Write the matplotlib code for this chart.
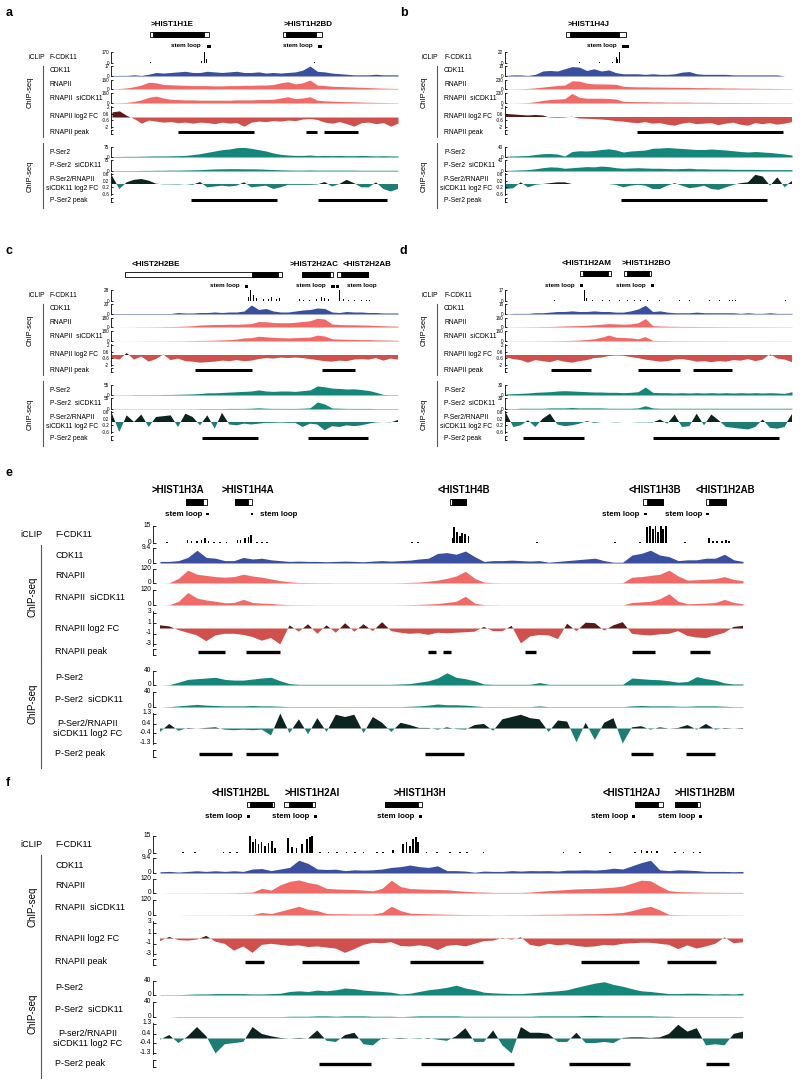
import numpy as np
import matplotlib.pyplot as plt
from matplotlib.patches import Rectangle
from matplotlib.lines import Line2D
from matplotlib.transforms import ScaledTranslation

plt.rcParams['font.family'] = ['Liberation Sans', 'DejaVu Sans']

# ---------------- data (positions are % of the shown locus) ----------------
x_small = np.linspace(0, 100, 40)
x_wide = np.linspace(0, 100, 64)

track_names = ['CDK11', 'RNAPII', 'RNAPII  siCDK11', 'RNAPII log2 FC', 'RNAPII peak',
               'P-Ser2', 'P-Ser2  siCDK11', 'P-Ser2 peak']
small_fc_ticks = [2, 0.6, -0.6, -2]
small_ratio_ticks = [0.6, 0.2, -0.2, -0.6]
wide_fc_ticks = [3, 1, -1, -3]
wide_ratio_ticks = [1.3, 0.4, -0.4, -1.3]

# panel a
a_gene_names = ['>HIST1H1E', '>HIST1H2BD']
a_gene_lab = [13.4, 59.9]
a_gene_start = [13.4, 59.9]
a_gene_end = [34.0, 73.6]
a_cds_start = [14.5, 61.0]
a_cds_end = [32.2, 71.3]
a_stem_start = [33.1, 72.1]
a_stem_end = [34.5, 73.5]
a_stem_side = ['L', 'L']
a_ymax = [170, 17, 160, 160, 75, 75]
a_iclip_pos = [13.4, 15.7, 18.0, 20.3, 22.7, 25.0, 27.3, 29.7, 31.4, 32.2, 32.9, 61.0, 63.4, 65.7, 68.6, 70.9]
a_iclip_h = [8, 5, 6, 4, 5, 4, 5, 6, 30, 170, 60, 4, 4, 4, 5, 8]
a_cdk11 = [1, 1, 1, 2, 1, 3, 6, 5, 6, 7, 8, 6, 6, 8, 7, 6, 7, 8, 6, 6,
           7, 5, 6, 5, 6, 7, 10, 17, 8, 7, 5, 4, 3, 2, 2, 2, 3, 2, 2, 2]
a_rnap = [5, 8, 20, 40, 70, 120, 110, 80, 75, 70, 65, 60, 60, 60, 55, 55, 60, 60, 65, 65,
          70, 70, 80, 110, 130, 90, 110, 160, 70, 60, 50, 45, 40, 35, 30, 25, 20, 15, 12, 10]
a_rnap_si = [3, 5, 10, 25, 50, 90, 110, 80, 60, 55, 50, 50, 45, 45, 45, 45, 45, 50, 50, 50,
             55, 55, 60, 80, 100, 70, 80, 100, 45, 35, 30, 25, 22, 20, 15, 12, 10, 8, 6, 5]
a_rnap_fc = [1.0, 1.2, 0.3, -0.3, -1.2, -0.6, -0.8, -1.0, -0.9, -1.1, -1.0, -1.2, -1.0, -1.1, -1.3, -1.0, -1.2, -1.1, -1.8, -1.0,
             -0.8, -0.9, -0.7, -0.8, -0.6, -0.7, -0.4, -0.3, -0.5, -1.0, -1.2, -0.9, -1.3, -1.8, -1.1, -1.0, -1.3, -1.1, -1.8, -1.2]
a_pser2 = [3, 4, 5, 5, 6, 7, 8, 8, 9, 10, 12, 18, 25, 35, 45, 55, 60, 70, 72, 65,
           55, 45, 30, 20, 15, 12, 12, 15, 10, 12, 10, 12, 10, 10, 12, 10, 8, 10, 8, 8]
a_pser2_si = [2, 3, 3, 3, 4, 4, 5, 5, 6, 6, 7, 8, 9, 12, 14, 15, 16, 16, 15, 15,
              14, 12, 10, 8, 7, 6, 6, 7, 6, 6, 6, 6, 6, 6, 5, 5, 5, 5, 5, 5]
a_pser2_fc = [0.5, -0.3, 0.1, 0.25, 0.3, 0.2, 0.02, -0.02, -0.02, -0.03, 0.0, -0.05, 0.12, -0.2, -0.15, -0.1, -0.15, -0.1, 0.1, -0.2,
              -0.15, -0.1, -0.3, -0.2, -0.05, -0.05, -0.05, -0.05, -0.03, 0.12, -0.15, 0.0, 0.25, 0.05, -0.2, -0.2, 0.1, -0.3, -0.45, -0.3]
a_rnap_pk = [(23.0, 49.7), (68.0, 71.7), (74.1, 86.0)]
a_pser2_pk = [(27.7, 57.8), (71.9, 96.2)]

# panel b
b_gene_names = ['>HIST1H4J']
b_gene_lab = [21.5]
b_gene_start = [21.1]
b_gene_end = [41.8]
b_cds_start = [22.5]
b_cds_end = [39.4]
b_stem_start = [40.6]
b_stem_end = [42.9]
b_stem_side = ['L']
b_ymax = [22, 18, 230, 230, 40, 40]
b_iclip_pos = [21.1, 23.4, 25.8, 28.1, 30.4, 32.7, 35.0, 37.4, 38.5, 39.1, 39.7, 52.4, 80.9]
b_iclip_h = [1, 1, 2, 1, 1, 2, 1, 2, 12, 8, 22, 1, 1]
b_cdk11 = [1, 2, 2, 1, 3, 9, 10, 9, 13, 17, 16, 10, 13, 9, 11, 6, 4, 4, 4, 3,
           4, 3, 3, 4, 7, 8, 4, 3, 3, 3, 3, 2, 2, 2, 2, 2, 2, 2, 0, 0]
b_rnap = [3, 5, 8, 15, 30, 50, 70, 90, 100, 210, 200, 150, 130, 130, 125, 120, 70, 60, 55, 55,
          50, 50, 45, 45, 40, 40, 35, 35, 30, 30, 25, 25, 20, 20, 18, 15, 15, 12, 10, 10]
b_rnap_si = [2, 3, 5, 10, 30, 60, 80, 90, 100, 220, 130, 110, 110, 110, 105, 90, 40, 35, 30, 30,
             25, 25, 20, 20, 20, 20, 15, 15, 15, 12, 12, 12, 10, 10, 8, 8, 6, 5, 5, 5]
b_rnap_fc = [0.6, 0.5, 0.4, 0.3, 0.4, 0.3, -0.1, -0.15, -0.1, 0.05, -0.3, -0.35, -0.4, -0.5, -0.6, -0.8, -0.9, -1.1, -1.2, -1.0,
             -1.3, -1.2, -1.5, -1.7, -1.3, -1.1, -1.4, -1.3, -1.2, -1.6, -1.3, -1.1, -1.5, -1.7, -1.2, -1.4, -1.2, -1.5, -1.3, -1.0]
b_pser2 = [3, 4, 5, 6, 10, 13, 14, 12, 4, 22, 25, 24, 26, 30, 33, 28, 20, 24, 26, 28,
           35, 36, 38, 36, 34, 32, 30, 30, 32, 30, 28, 25, 22, 20, 22, 20, 18, 15, 12, 8]
b_pser2_si = [2, 3, 4, 5, 8, 12, 15, 14, 10, 12, 14, 16, 15, 18, 16, 12, 10, 11, 12, 11,
              10, 10, 9, 8, 9, 10, 8, 8, 7, 7, 7, 6, 6, 6, 6, 5, 5, 5, 5, 5]
b_pser2_fc = [-0.3, -0.25, 0.1, -0.2, -0.05, 0.0, 0.05, 0.1, 0.1, 0.0, 0.0, 0.0, 0.0, 0.0, 0.0, -0.05, -0.2, -0.1, -0.05, -0.1,
              -0.3, -0.3, -0.1, 0.05, -0.1, -0.25, -0.2, -0.1, -0.3, -0.35, -0.2, -0.05, 0.05, 0.1, 0.55, 0.45, -0.1, 0.4, -0.2, 0.2]
b_rnap_pk = [(45.7, 96.8)]
b_pser2_pk = [(40.3, 91.3)]

# panel c
c_gene_names = ['<HIST2H2BE', '>HIST2H2AC', '<HIST2H2AB']
c_gene_lab = [7.0, 62.0, 80.8]
c_gene_start = [4.4, 66.3, 78.5]
c_gene_end = [59.3, 77.3, 89.5]
c_cds_start = [48.8, 66.3, 79.9]
c_cds_end = [58.1, 76.2, 89.5]
c_stem_start = [46.5, 76.7, 78.3]
c_stem_end = [47.7, 77.9, 79.4]
c_stem_side = ['L', 'L', 'R']
c_ymax = [28, 20, 180, 180, 55, 55]
c_iclip_pos = [2.9, 9.9, 16.9, 26.2, 35.5, 42.4, 47.7, 48.5, 49.4, 50.6, 52.9, 54.7, 55.8, 57.6, 58.7,
               65.7, 66.9, 69.2, 71.5, 73.3, 74.4, 75.6, 79.7, 80.8, 82.6, 84.9, 87.2, 89.0, 90.1]
c_iclip_h = [1, 1, 1, 1, 1, 1, 10, 28, 15, 8, 6, 5, 10, 6, 8,
             6, 3, 3, 4, 10, 8, 5, 28, 6, 3, 3, 3, 3, 2]
c_cdk11 = [1, 1, 1, 1, 1, 1, 1, 1, 1, 3, 2, 2, 3, 3, 4, 3, 4, 4, 6, 18,
           9, 11, 6, 4, 4, 6, 8, 9, 12, 11, 4, 3, 5, 4, 4, 3, 3, 2, 2, 2]
c_rnap = [0, 1, 2, 3, 4, 5, 6, 8, 10, 12, 18, 25, 40, 45, 50, 50, 55, 55, 60, 70,
          110, 105, 90, 85, 85, 95, 110, 125, 175, 160, 60, 50, 45, 45, 40, 38, 30, 25, 20, 18]
c_rnap_si = [0, 0, 1, 1, 2, 2, 3, 3, 4, 5, 6, 8, 10, 12, 15, 20, 25, 35, 55, 60,
             85, 75, 65, 60, 55, 60, 65, 70, 105, 90, 40, 35, 30, 28, 25, 25, 20, 18, 15, 12]
c_rnap_fc = [-0.6, -0.9, 0.4, -0.9, -0.3, -1.3, -0.8, 0.1, -1.0, -0.7, -1.2, -1.3, -1.5, -1.4, -1.3, -1.1, -1.2, -1.0, -1.2, -1.1,
             -0.8, -0.6, -0.7, -0.5, -0.6, -0.5, -0.6, -0.8, -1.0, -1.2, -1.3, -1.1, -1.2, -0.9, -0.8, -0.9, -0.6, -1.1, -0.7, -0.9]
c_pser2 = [1, 1, 1, 2, 2, 2, 2, 3, 3, 4, 5, 6, 8, 12, 12, 14, 16, 18, 20, 22,
           28, 22, 20, 22, 22, 20, 24, 28, 50, 45, 38, 36, 33, 34, 30, 25, 15, 3, 2, 2]
c_pser2_si = [1, 1, 1, 1, 1, 1, 1, 1, 1, 1, 1, 1, 2, 2, 2, 2, 3, 3, 3, 4,
              6, 4, 3, 3, 3, 3, 4, 6, 35, 25, 5, 4, 3, 3, 3, 3, 2, 2, 2, 2]
c_pser2_fc = [0.5, -0.6, 0.4, 0.0, 0.45, -0.3, 0.3, 0.35, 0.4, -0.3, 0.5, 0.3, -0.2, 0.4, -0.4, 0.55, -0.15, -0.2, -0.1, -0.15,
              -0.1, -0.05, -0.05, -0.03, -0.05, -0.05, -0.3, -0.1, -0.15, -0.5, -0.25, -0.3, -0.2, -0.25, -0.2, -0.1, -0.02, 0.0, -0.02, 0.15]
c_rnap_pk = [(29.1, 48.8), (73.3, 84.9)]
c_pser2_pk = [(31.4, 51.2), (68.6, 89.5)]

# panel d
d_gene_names = ['<HIST1H2AM', '>HIST1H2BO']
d_gene_lab = [19.4, 40.6]
d_gene_start = [25.8, 41.4]
d_gene_end = [36.8, 50.7]
d_cds_start = [26.9, 42.2]
d_cds_end = [35.6, 49.9]
d_stem_start = [25.8, 50.7]
d_stem_end = [26.9, 51.9]
d_stem_side = ['L', 'L']
d_ymax = [17, 16, 160, 160, 30, 30]
d_iclip_pos = [17.1, 27.3, 28.1, 30.4, 33.9, 36.2, 39.7, 42.5, 44.8, 47.1, 49.4, 53.6, 60.6, 64.0, 71.0, 74.5, 78.0, 79.1, 80.3, 97.7]
d_iclip_h = [1, 17, 4, 2, 1, 1, 1, 2, 1, 2, 2, 1, 1, 1, 1, 1, 1, 1, 1, 1]
d_cdk11 = [0, 1, 1, 1, 2, 2, 3, 4, 4, 5, 4, 4, 5, 4, 4, 3, 3, 5, 8, 14,
           4, 5, 3, 2, 2, 2, 3, 2, 2, 2, 2, 2, 1, 2, 1, 1, 2, 1, 1, 1]
d_rnap = [2, 3, 4, 5, 6, 8, 10, 14, 18, 22, 25, 30, 40, 50, 60, 55, 50, 55, 75, 150,
          25, 18, 14, 12, 10, 10, 9, 8, 8, 7, 7, 6, 6, 6, 5, 5, 5, 4, 4, 4]
d_rnap_si = [1, 2, 2, 3, 3, 4, 5, 6, 8, 10, 15, 25, 35, 60, 95, 60, 55, 50, 35, 70,
             10, 8, 6, 5, 5, 5, 4, 4, 4, 4, 4, 3, 3, 3, 3, 3, 3, 2, 2, 2]
d_rnap_fc = [-0.5, -0.8, -1.0, -1.5, -1.0, -1.2, -1.4, -1.0, -1.3, -1.5, -1.2, -1.0, -0.6, -0.5, -0.2, -0.1, -0.15, -0.4, -0.6, -0.9,
             -1.1, -1.3, -1.2, -0.9, -0.8, -1.0, -1.3, -1.2, -1.4, -1.2, -1.3, -1.0, -1.1, -0.8, -1.2, -0.9, 0.2, -0.7, -0.9, -1.4]
d_pser2 = [3, 4, 5, 6, 8, 9, 10, 12, 13, 12, 11, 10, 9, 9, 8, 8, 7, 8, 10, 24,
           8, 7, 7, 6, 7, 6, 7, 6, 7, 6, 7, 6, 7, 6, 7, 6, 7, 6, 5, 10]
d_pser2_si = [1, 1, 2, 2, 2, 2, 3, 3, 3, 4, 3, 3, 3, 3, 2, 2, 2, 2, 3, 9,
              3, 2, 2, 2, 2, 2, 2, 2, 2, 2, 2, 2, 2, 2, 2, 2, 2, 2, 2, 2]
d_pser2_fc = [0.55, -0.3, -0.2, 0.1, -0.3, 0.2, 0.5, -0.15, -0.25, -0.2, -0.1, 0.05, -0.05, 0.0, 0.0, -0.02, 0.0, 0.0, -0.02, -0.02,
              -0.03, 0.15, -0.1, 0.45, -0.3, -0.25, 0.5, -0.2, 0.45, 0.1, -0.3, -0.35, -0.4, -0.45, -0.3, 0.15, -0.35, -0.4, -0.3, 0.5]
d_rnap_pk = [(15.9, 29.8), (46.1, 60.8), (65.4, 79.1)]
d_pser2_pk = [(5.8, 27.3), (51.3, 95.4)]

# panel e
e_gene_names = ['>HIST1H3A', '>HIST1H4A', '<HIST1H4B', '<HIST1H3B', '<HIST1H2AB']
e_gene_lab = [-1.4, 10.6, 47.7, 80.3, 91.8]
e_gene_start = [4.5, 12.9, 49.7, 82.8, 93.7]
e_gene_end = [8.0, 15.8, 52.5, 86.3, 97.1]
e_cds_start = [4.5, 12.9, 50.1, 83.5, 94.2]
e_cds_end = [7.4, 15.1, 52.5, 86.3, 97.1]
e_stem_start = [7.9, 15.6, 83.0, 93.7]
e_stem_end = [8.4, 16.0, 83.5, 94.2]
e_stem_side = ['L', 'R', 'L', 'L']
e_ymax = [15, 9.4, 120, 120, 40, 40]
e_iclip_pos = [1.2, 4.7, 5.4, 6.3, 7.1, 7.7, 8.3, 9.2, 10.3, 11.4, 13.3, 13.8, 14.6, 15.2, 15.6, 16.6, 17.5, 18.3,
               43.2, 44.3, 50.3, 50.4, 50.9, 51.4, 51.8, 52.3, 52.9, 64.7, 78.0, 82.3,
               83.5, 84.0, 84.5, 85.0, 85.4, 85.9, 86.3, 86.8, 90.0, 94.2, 94.9, 95.5, 96.4, 97.1, 97.6]
e_iclip_h = [1, 3, 2, 2, 3, 4, 2, 1, 1, 1, 3, 3, 4, 5, 7, 1, 1, 1,
             1, 1, 4, 14, 10, 6, 9, 8, 6, 1, 1, 1,
             14, 15, 12, 15, 10, 15, 12, 15, 1, 4, 2, 2, 2, 3, 2]
e_cdk11 = [1.0, 1.0, 1.5, 3.5, 8.0, 3.5, 3.0, 1.5, 1.5, 3.5, 2.5, 3.0, 2.0, 1.5, 1.0, 1.2, 1.0, 1.0, 0.8, 1.0,
           1.2, 1.0, 0.8, 1.2, 1.5, 1.2, 1.5, 1.8, 2.5, 3.0, 6.0, 6.5, 5.5, 7.5, 4.0, 1.0, 1.5, 1.5, 1.8, 1.5,
           1.2, 1.5, 0.5, 1.0, 1.5, 2.0, 2.5, 3.0, 1.5, 0.5, 0.5, 5.0, 6.0, 8.0, 5.0, 4.0, 1.5, 2.0, 2.0, 3.0,
           3.0, 5.5, 2.0, 1.0]
e_rnap = [0, 2, 40, 110, 75, 65, 55, 50, 55, 75, 60, 50, 35, 20, 10, 5, 4, 3, 3, 2,
          2, 2, 2, 2, 2, 2, 3, 5, 8, 15, 25, 40, 60, 100, 40, 8, 3, 2, 2, 2,
          2, 2, 2, 2, 2, 2, 2, 2, 2, 2, 3, 50, 55, 65, 75, 110, 60, 25, 28, 32,
          38, 55, 30, 20]
e_rnap_si = [0, 2, 30, 100, 55, 40, 30, 18, 20, 45, 20, 15, 12, 6, 3, 2, 2, 1, 1, 1,
             1, 1, 1, 1, 1, 1, 2, 3, 5, 8, 12, 20, 30, 70, 15, 3, 2, 1, 1, 1,
             1, 1, 1, 1, 1, 1, 1, 1, 1, 1, 1, 20, 25, 30, 50, 90, 30, 10, 12, 15,
             20, 45, 20, 10]
e_rnap_fc = [0.6, 0.4, -0.3, -0.8, -1.3, -2.4, -1.3, -1.0, -1.0, -1.2, -1.6, -2.3, -1.8, -3.0, 0.6, -0.6, 0.8, -1.0, 0.6, -0.8,
             1.0, -0.6, 0.8, -0.5, 1.2, -0.5, -0.8, -1.0, -0.9, -1.2, -0.8, -0.9, -0.8, -0.7, -0.6, 0.3, -0.5, -0.5, 0.5, -2.8,
             -1.5, -1.2, -1.3, -2.0, 0.9, -0.5, 1.1, 1.0, -0.4, 0.6, 1.2, -1.0, -1.2, -1.3, -1.1, -1.0, -0.5, -1.4, -1.7, -1.8,
             -1.3, -0.8, 0.3, 0.5]
e_pser2 = [0, 1, 8, 16, 18, 20, 22, 16, 14, 14, 17, 20, 22, 12, 4, 2, 2, 2, 2, 2,
           2, 2, 2, 2, 2, 2, 3, 4, 8, 12, 20, 35, 22, 18, 12, 3, 2, 2, 2, 2,
           2, 7, 2, 2, 2, 2, 2, 2, 2, 2, 2, 20, 18, 16, 15, 12, 8, 10, 24, 18,
           14, 6, 3, 3]
e_pser2_si = [0, 1, 3, 5, 7, 5, 4, 3, 3, 3, 4, 3, 3, 2, 1, 1, 1, 1, 1, 1,
              1, 1, 1, 1, 1, 1, 1, 2, 3, 5, 8, 6, 6, 5, 3, 1, 1, 1, 1, 1,
              1, 3, 1, 1, 1, 1, 1, 1, 1, 1, 1, 3, 4, 3, 3, 3, 2, 2, 3, 3,
              3, 2, 1, 1]
e_pser2_fc = [-0.3, 0.4, -0.2, 0.05, 0.0, 0.05, 0.1, -0.1, -0.15, -0.1, -0.15, -0.1, -0.6, 1.3, -0.4, 0.8, -0.5, 0.9, -0.3, 1.2,
              1.0, 1.2, -0.4, 1.0, 0.5, -0.3, 0.5, 0.3, 0.05, 0.05, -0.1, 0.1, -0.05, -0.1, 0.3, 0.4, -0.2, 0.8, 1.0, 1.2,
              0.9, 0.8, -0.3, 0.7, 0.6, -1.2, 0.5, -1.0, 0.5, 0.9, -1.3, 0.1, 0.2, -0.1, 0.1, 0.0, 0.05, 0.3, -0.1, 0.4,
              -0.1, 0.05, 0.0, 0.05]
e_rnap_pk = [(6.6, 11.1), (14.8, 20.6), (46.0, 47.4), (48.5, 49.9), (62.6, 64.5), (81.0, 84.9), (90.9, 94.3)]
e_pser2_pk = [(6.7, 12.3), (14.8, 20.3), (45.5, 52.1), (80.8, 84.6), (90.2, 95.2)]

# panel f
f_gene_names = ['<HIST1H2BL', '>HIST1H2AI', '>HIST1H3H', '<HIST1H2AJ', '>HIST1H2BM']
f_gene_lab = [8.9, 21.3, 40.0, 76.0, 88.3]
f_gene_start = [14.9, 21.3, 38.6, 81.5, 88.3]
f_gene_end = [19.6, 26.6, 44.9, 86.3, 92.6]
f_cds_start = [15.4, 22.1, 38.6, 81.5, 88.3]
f_cds_end = [19.2, 26.1, 44.3, 85.4, 92.1]
f_stem_start = [14.9, 26.4, 44.4, 81.0, 92.5]
f_stem_end = [15.4, 26.9, 44.9, 81.5, 93.0]
f_stem_side = ['L', 'L', 'L', 'L', 'L']
f_ymax = [15, 9.4, 120, 120, 40, 40]
f_iclip_pos = [4.0, 6.0, 10.9, 12.0, 13.2, 15.4, 15.9, 16.4, 16.9, 17.4, 18.0, 18.6, 19.2, 19.7,
               22.0, 22.6, 23.4, 24.3, 25.2, 25.7, 26.1, 27.4, 28.9, 30.3, 32.0, 33.4, 34.9, 37.2, 38.3, 40.0,
               41.7, 42.3, 42.9, 43.4, 43.9, 44.3, 45.7, 47.5, 49.7, 51.5, 52.6, 55.5, 69.2, 72.0, 77.2,
               81.5, 82.6, 83.5, 84.3, 85.2, 88.3, 89.8, 91.5, 92.6]
f_iclip_h = [1, 1, 1, 1, 1, 15, 10, 12, 8, 10, 6, 9, 11, 4,
             13, 5, 4, 8, 12, 14, 15, 1, 1, 1, 1, 1, 1, 1, 1, 3,
             8, 10, 6, 12, 14, 10, 1, 1, 1, 1, 1, 1, 1, 1, 1,
             1, 3, 2, 2, 2, 1, 1, 1, 1]
f_cdk11 = [0.8, 1.0, 0.6, 1.0, 1.4, 1.0, 1.4, 1.0, 1.4, 1.0, 2.5, 2.8, 1.5, 2.5, 3.5, 8.0, 6.0, 2.5, 2.2, 2.4,
           1.5, 2.0, 1.8, 2.0, 2.5, 3.5, 4.0, 5.0, 4.0, 3.5, 4.5, 1.5, 1.5, 1.2, 0.5, 1.2, 1.0, 1.0, 1.5, 1.2,
           1.5, 1.4, 1.5, 1.2, 1.8, 1.8, 2.0, 1.8, 2.2, 3.0, 2.5, 4.5, 6.5, 8.0, 2.0, 1.5, 2.0, 1.8, 1.5, 1.0,
           1.0, 1.0, 0.8, 1.0]
f_rnap = [0, 1, 1, 1, 1, 2, 2, 2, 3, 5, 8, 40, 25, 70, 100, 112, 90, 75, 40, 35,
          32, 30, 25, 18, 40, 110, 55, 38, 35, 32, 30, 28, 20, 15, 10, 8, 5, 5, 5, 5,
          8, 15, 20, 25, 30, 35, 38, 40, 45, 50, 60, 85, 110, 105, 60, 20, 12, 10, 8, 6,
          6, 5, 5, 5]
f_rnap_si = [0, 0, 0, 1, 1, 1, 1, 1, 2, 2, 3, 20, 12, 30, 50, 70, 45, 35, 12, 10,
             10, 8, 8, 8, 20, 70, 35, 15, 12, 10, 8, 6, 5, 4, 3, 3, 2, 2, 3, 3,
             4, 5, 6, 6, 8, 8, 10, 10, 12, 15, 20, 35, 55, 70, 40, 5, 3, 2, 2, 2,
             2, 2, 1, 1]
f_rnap_fc = [-0.5, 0.3, -0.3, -0.4, -0.2, 0.5, -0.6, -1.0, -2.3, -1.5, -2.7, -1.2, -1.0, -1.2, -1.4, -1.3, -1.6, -1.5, -1.7, -1.9,
             -2.7, -2.0, -1.2, -0.8, -0.9, -0.7, -1.4, -1.5, -1.3, -1.5, -2.2, -1.4, -1.2, -1.5, -1.0, -0.5, -0.4, 0.1, -0.2, 0.2,
             -1.2, -1.5, -1.0, -1.3, -1.1, -1.4, -1.6, -1.5, -1.2, -1.3, -1.0, -0.9, -0.8, -0.8, -1.0, -1.2, -2.0, -1.3, -1.9, -1.5,
             -1.0, 0.2, -0.9, -0.7]
f_pser2 = [1, 1, 1, 2, 3, 3, 4, 4, 4, 4, 3, 3, 4, 5, 10, 12, 10, 14, 12, 15,
           20, 18, 14, 12, 10, 8, 3, 5, 10, 15, 18, 22, 28, 20, 15, 8, 6, 5, 4, 4,
           6, 8, 10, 12, 15, 22, 28, 34, 38, 30, 25, 18, 12, 10, 7, 4, 4, 5, 5, 4,
           3, 4, 3, 5]
f_pser2_si = [0, 0, 1, 1, 1, 1, 1, 1, 1, 1, 1, 1, 1, 1, 2, 2, 2, 3, 3, 2,
              3, 3, 3, 2, 2, 2, 1, 2, 3, 3, 3, 3, 3, 2, 2, 2, 2, 2, 2, 2,
              2, 3, 3, 3, 3, 3, 4, 4, 3, 3, 3, 3, 3, 3, 2, 2, 1, 1, 1, 1,
              1, 1, 1, 1]
f_pser2_fc = [-0.1, 0.3, -0.4, 0.2, 1.0, 0.2, -1.3, -0.5, -0.4, -0.3, 1.0, 0.4, 0.2, 0.05, 0.0, 0.05, 0.0, 0.7, -0.2, -0.3,
              0.3, 0.5, -0.5, -0.6, 0.05, 0.0, 0.05, 0.0, -0.05, 0.05, -0.1, -0.2, 0.2, 0.9, -0.3, -0.3, 0.7, -0.6, -1.3, 1.0,
              0.5, 0.5, 0.4, -0.3, -0.3, 0.5, -0.4, -0.4, -0.3, -0.4, 0.05, 0.1, 0.1, 0.05, 0.1, 0.4, 1.2, 0.6, 0.9, -0.6,
              -0.5, -0.6, 0.4, 0.6]
f_rnap_pk = [(14.5, 17.8), (24.3, 34.2), (42.9, 55.4), (72.2, 82.2), (87.0, 95.4)]
f_pser2_pk = [(27.3, 36.2), (44.7, 60.7), (70.2, 80.6), (93.7, 97.6)]

# ---------------- colours ----------------
C_CDK11 = '#3a4f9f'
C_RNAP = '#f06b68'
C_RNAP_POS = '#5a1818'
C_RNAP_NEG = '#cf504d'
C_PSER2 = '#14867a'
C_RATIO_POS = '#0c241f'
C_RATIO_NEG = '#1d7c74'

# ---------------- layouts (pixel positions inside a panel) ----------------
SMALL = dict(letter=(6, 13), gene_top=17, gene_bot=50, gene_y=24, box_y=34.5, box_h=5,
             stem_y=46, stem_h=3, stem_gap=4,
             x_lab1=28, x_lab2=50, x_ratio=72, x0=111, x1=398, pad=-0.35,
             tracks=dict(iclip=(52, 63), cdk11=(66, 76), rnap=(80, 89), rnap_si=(93, 103),
                         rnap_fc=(106, 128), rnap_pk=(130, 134), pser2=(147, 157),
                         pser2_si=(160, 171), pser2_fc=(173, 195), pser2_pk=(198, 202)),
             chip_x=43, chip_lab_x=30, chip=[(66, 137), (143, 208)], chip_lab_y=[92, 176],
             fs_lab=4.9, fs_tick=3.3, fs_gene=5.8, fs_stem=4.5, fs_letter=9, fs_chip=5.4,
             pk_lw=2.2, tick_len=1.5, tick_dy=0.0, bar_w=0.35, fc_lim=2.15, ratio_lim=0.66,
             fc_ticks=small_fc_ticks, ratio_ticks=small_ratio_ticks)

WIDE = dict(letter=(6, -7), gene_top=2, gene_bot=40, gene_y=10, box_y=22, box_h=5.5,
            stem_y=34, stem_h=2.5, stem_gap=3,
            x_lab1=20, x_lab2=55, x_ratio=88, x0=153, x1=743, pad=-1.2,
            tracks=dict(iclip=(46, 63), cdk11=(68, 83), rnap=(89, 103), rnap_si=(110, 125),
                        rnap_fc=(131, 166), rnap_pk=(169, 175), pser2=(191, 205),
                        pser2_si=(212, 227), pser2_fc=(233, 264), pser2_pk=(270, 277)),
            chip_x=41, chip_lab_x=32, chip=[(65, 177), (178, 288)], chip_lab_y=[117, 224],
            fs_lab=6.5, fs_tick=4.8, fs_gene=7.0, fs_stem=5.7, fs_letter=9, fs_chip=7.0,
            pk_lw=2.4, tick_len=2.5, tick_dy=1.3, bar_w=0.3, fc_lim=3.3, ratio_lim=1.35,
            fc_ticks=wide_fc_ticks, ratio_ticks=wide_ratio_ticks)

W, H = 800, 1086
fig = plt.figure(figsize=(W / 100, H / 100), dpi=100)


def add_ax(x0, y0, x1, y1):
    return fig.add_axes([x0 / W, 1 - y1 / H, (x1 - x0) / W, (y1 - y0) / H])


def ftext(x, y, s, **kw):
    fig.text(x / W, 1 - y / H, s, **kw)


def style(ax, L, ticks, labels):
    for side in ('top', 'right', 'bottom'):
        ax.spines[side].set_visible(False)
    ax.spines['left'].set_linewidth(0.6)
    ax.set_xlim(L['pad'], 100)
    ax.set_xticks([])
    ax.set_yticks(ticks)
    ax.set_yticklabels(labels)
    ax.tick_params(axis='y', direction='in', length=L['tick_len'], width=0.6,
                   pad=1.2, labelsize=L['fs_tick'])
    if L['tick_dy']:
        # numbers sit just above their tick, as in the original browser shots
        shift = ScaledTranslation(0, L['tick_dy'] / 72, fig.dpi_scale_trans)
        for t in ax.get_yticklabels():
            t.set_transform(t.get_transform() + shift)
    ax.patch.set_alpha(0)


def draw_panel(p, letter, L, ox, oy, gdy, x, ratio_name):
    g = lambda k: globals()[p + '_' + k]
    T = L['tracks']
    ymax = g('ymax')

    ftext(ox + L['letter'][0], oy + L['letter'][1], letter, fontsize=L['fs_letter'],
          fontweight='bold', va='center')

    # gene models and stem loops
    gax = add_ax(ox + L['x0'], oy + gdy + L['gene_top'], ox + L['x1'], oy + gdy + L['gene_bot'])
    gax.set_xlim(L['pad'], 100)
    gax.set_ylim(L['gene_bot'], L['gene_top'])
    gax.axis('off')
    bh = L['box_h']
    for name, lab, s, e, cs, ce in zip(g('gene_names'), g('gene_lab'), g('gene_start'),
                                       g('gene_end'), g('cds_start'), g('cds_end')):
        gax.add_patch(Rectangle((s, L['box_y'] - bh / 2), e - s, bh, fc='white', ec='black', lw=0.6))
        gax.add_patch(Rectangle((cs, L['box_y'] - bh / 2), ce - cs, bh, fc='black', ec='black', lw=0.6))
        gax.text(lab, L['gene_y'], name, fontsize=L['fs_gene'], fontweight='bold',
                 ha='left', va='center', clip_on=False)
    sh = L['stem_h']
    for s, e, side in zip(g('stem_start'), g('stem_end'), g('stem_side')):
        gax.add_patch(Rectangle((s, L['stem_y'] - sh / 2), e - s, sh, fc='black', ec='none'))
        if side == 'L':
            gax.annotate('stem loop', xy=(s, L['stem_y']), xytext=(-L['stem_gap'], 0),
                         textcoords='offset points', ha='right', va='center',
                         fontsize=L['fs_stem'], fontweight='bold')
        else:
            gax.annotate('stem loop', xy=(e, L['stem_y']), xytext=(L['stem_gap'] + 1.5, 0),
                         textcoords='offset points', ha='left', va='center',
                         fontsize=L['fs_stem'], fontweight='bold')

    def box(key):
        y0, y1 = T[key]
        return add_ax(ox + L['x0'], oy + y0, ox + L['x1'], oy + y1)

    def label(key, text, xk='x_lab2'):
        y0, y1 = T[key]
        ftext(ox + L[xk], oy + (y0 + y1) / 2, text, fontsize=L['fs_lab'], va='center', ha='left')

    # iCLIP
    ax = box('iclip')
    ax.bar(g('iclip_pos'), g('iclip_h'), width=L['bar_w'], color='black', lw=0)
    ax.set_ylim(0, ymax[0])
    style(ax, L, [0, ymax[0]], ['0', f'{ymax[0]:g}'])
    label('iclip', 'iCLIP', 'x_lab1')
    label('iclip', 'F-CDK11')

    # coverage tracks
    cov = [('cdk11', C_CDK11, 1, track_names[0]), ('rnap', C_RNAP, 2, track_names[1]),
           ('rnap_si', C_RNAP, 3, track_names[2]), ('pser2', C_PSER2, 4, track_names[5]),
           ('pser2_si', C_PSER2, 5, track_names[6])]
    for key, col, k, name in cov:
        ax = box(key)
        ax.fill_between(x, 0, g(key), color=col, lw=0)
        ax.axhline(0, color=col, lw=0.4, alpha=0.5)
        ax.set_ylim(0, ymax[k])
        style(ax, L, [0, ymax[k]], ['0', f'{ymax[k]:g}'])
        label(key, name)

    # log2 fold-change tracks
    for key, pos_c, neg_c, lim, ticks in [('rnap_fc', C_RNAP_POS, C_RNAP_NEG, L['fc_lim'], L['fc_ticks']),
                                          ('pser2_fc', C_RATIO_POS, C_RATIO_NEG, L['ratio_lim'], L['ratio_ticks'])]:
        ax = box(key)
        v = np.asarray(g(key), dtype=float)
        ax.fill_between(x, 0, v, where=v >= 0, interpolate=True, color=pos_c, lw=0)
        ax.fill_between(x, 0, v, where=v <= 0, interpolate=True, color=neg_c, lw=0)
        ax.set_ylim(-lim, lim)
        style(ax, L, ticks, [f'{t:g}' for t in ticks])
    label('rnap_fc', track_names[3])
    y0, y1 = T['pser2_fc']
    ftext(ox + L['x_ratio'], oy + (y0 + y1) / 2, ratio_name + '\nsiCDK11 log2 FC',
          fontsize=L['fs_lab'], ha='center', va='center', multialignment='center', linespacing=1.25)

    # peak calls
    for key, name in [('rnap_pk', track_names[4]), ('pser2_pk', track_names[7])]:
        ax = box(key)
        for s, e in g(key):
            ax.hlines(0.5, s, e, color='black', lw=L['pk_lw'])
        ax.set_ylim(0, 1)
        style(ax, L, [0, 1], ['', ''])
        label(key, name)

    # ChIP-seq brackets
    for (c0, c1), ly in zip(L['chip'], L['chip_lab_y']):
        fig.add_artist(Line2D([(ox + L['chip_x']) / W] * 2, [1 - (oy + c0) / H, 1 - (oy + c1) / H],
                              transform=fig.transFigure, color='0.35', lw=0.8))
        ftext(ox + L['chip_lab_x'], oy + ly, 'ChIP-seq', rotation=90, fontsize=L['fs_chip'],
              ha='center', va='center')


draw_panel('a', 'a', SMALL, 0, 0, 0, x_small, 'P-Ser2/RNAPII')
draw_panel('b', 'b', SMALL, 394, 0, 0, x_small, 'P-Ser2/RNAPII')
draw_panel('c', 'c', SMALL, 0, 238, 2, x_small, 'P-Ser2/RNAPII')
draw_panel('d', 'd', SMALL, 394, 238, 1, x_small, 'P-Ser2/RNAPII')
draw_panel('e', 'e', WIDE, 0, 480, 0, x_wide, 'P-Ser2/RNAPII')
draw_panel('f', 'f', WIDE, 0, 790, -7.5, x_wide, 'P-ser2/RNAPII')

fig.savefig('out.png', dpi=100)
